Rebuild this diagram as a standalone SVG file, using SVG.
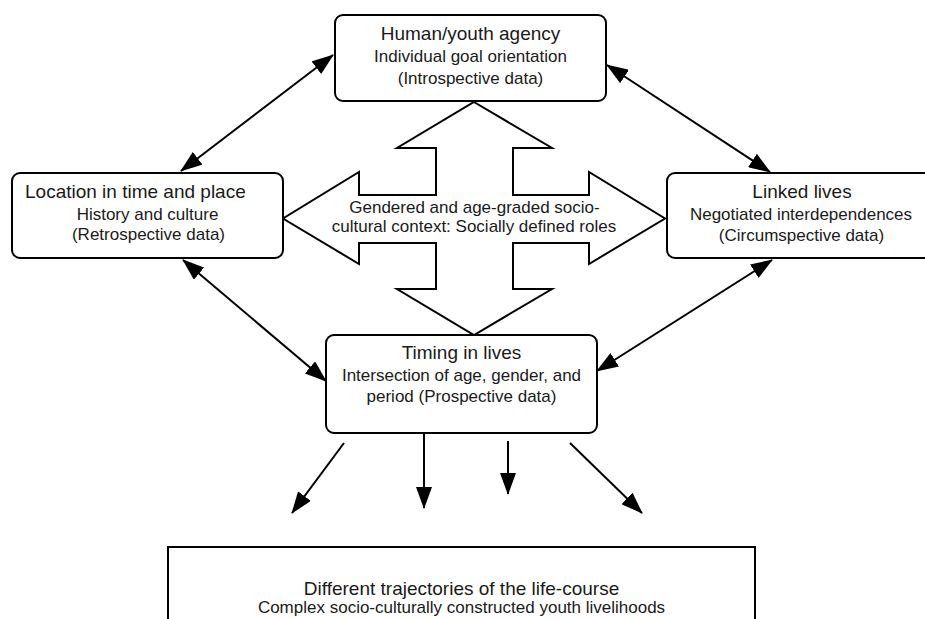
<svg xmlns="http://www.w3.org/2000/svg" width="925" height="619" viewBox="0 0 925 619">
  <style>
    .box { fill: #ffffff; stroke: #000000; stroke-width: 2; }
    .t1 { font-family: "Liberation Sans", Arial, sans-serif; font-size: 19px; fill: #1a1a1a; }
    .t2 { font-family: "Liberation Sans", Arial, sans-serif; font-size: 17px; fill: #1a1a1a; }
    .c { text-anchor: middle; }
    .conn { stroke: #000000; stroke-width: 2; fill: none; }
    .dbl { marker-start: url(#ah); marker-end: url(#ah); }
    .one { marker-end: url(#ah); }
  </style>
  <defs>
    <marker id="ah" markerUnits="userSpaceOnUse" markerWidth="22" markerHeight="16" refX="21" refY="8" orient="auto-start-reverse">
      <path d="M0,0 L22,8 L0,16 z" fill="#000000"/>
    </marker>
  </defs>
  <rect width="925" height="619" fill="#ffffff"/>

  <g id="context">
    <polygon class="box" stroke-linejoin="miter" points="474,102 552,148 513,148 513,195 589,195 589,172 665,218.5 589,264 589,243 513,243 513,289 552,289 474,335 397,289 436,289 436,243 359,243 359,264 283,218.5 359,172 359,195 436,195 436,148 397,148"/>
    <text class="t2 c" x="474.5" y="213">Gendered and age-graded socio-</text>
    <text class="t2 c" x="474" y="232">cultural context: Socially defined roles</text>
  </g>

  <g id="agency">
    <rect class="box" x="335" y="15" width="271" height="86" rx="8"/>
    <text class="t1 c" x="470.5" y="40">Human/youth agency</text>
    <text class="t2 c" x="470.5" y="62">Individual goal orientation</text>
    <text class="t2 c" x="470.5" y="84">(Introspective data)</text>
  </g>

  <g id="location">
    <rect class="box" x="12" y="173" width="271" height="85" rx="8"/>
    <text class="t1" x="25" y="198">Location in time and place</text>
    <text class="t2 c" x="147.5" y="220">History and culture</text>
    <text class="t2 c" x="148.5" y="240">(Retrospective data)</text>
  </g>

  <g id="linked">
    <rect class="box" x="667" y="173" width="271" height="85" rx="8"/>
    <text class="t1 c" x="802" y="198">Linked lives</text>
    <text class="t2 c" x="801" y="220">Negotiated interdependences</text>
    <text class="t2 c" x="801.5" y="241">(Circumspective data)</text>
  </g>

  <g id="timing">
    <rect class="box" x="326" y="335" width="271" height="98" rx="8"/>
    <text class="t1 c" x="461.5" y="359">Timing in lives</text>
    <text class="t2 c" x="461.5" y="381">Intersection of age, gender, and</text>
    <text class="t2 c" x="461.5" y="402">period (Prospective data)</text>
  </g>

  <g id="trajectories">
    <rect class="box" x="168" y="547" width="587" height="100"/>
    <text class="t1 c" x="461.5" y="595">Different trajectories of the life-course</text>
    <text class="t2 c" x="461.5" y="613">Complex socio-culturally constructed youth livelihoods</text>
  </g>

  <g id="connectors">
    <line class="conn dbl" x1="181" y1="171" x2="333" y2="55"/>
    <line class="conn dbl" x1="607" y1="65" x2="770" y2="172"/>
    <line class="conn dbl" x1="183" y1="260" x2="326" y2="381"/>
    <line class="conn dbl" x1="772" y1="260" x2="597" y2="371"/>
    <line class="conn one" x1="344" y1="443" x2="292" y2="513"/>
    <line class="conn one" x1="424" y1="433" x2="424" y2="508"/>
    <line class="conn one" x1="508" y1="441" x2="508" y2="494"/>
    <line class="conn one" x1="570" y1="443" x2="642" y2="513"/>
  </g>
</svg>
